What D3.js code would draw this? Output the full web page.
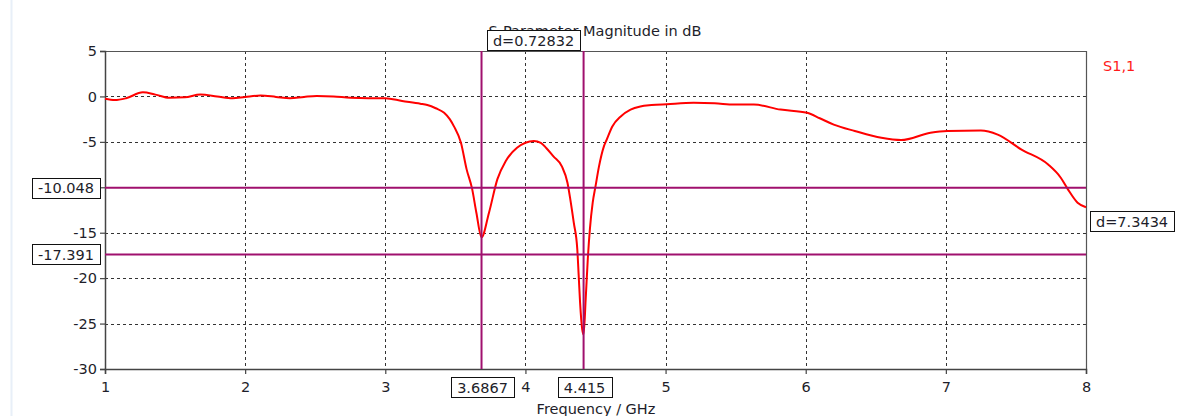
<!DOCTYPE html>
<html><head><meta charset="utf-8">
<script src="https://cdn.jsdelivr.net/npm/d3@7"></script>
<style>html,body{margin:0;padding:0;background:#fff;overflow:hidden}svg{display:block}</style>
</head><body>
<script>
const freq = [1.00,1.07,1.15,1.27,1.36,1.46,1.57,1.68,1.80,1.91,2.00,2.11,2.22,2.32,2.42,2.51,2.63,2.75,2.88,3.00,3.12,3.25,3.30,3.36,3.42,3.46,3.49,3.54,3.58,3.62,3.65,3.6867,3.74,3.80,3.86,3.94,4.06,4.11,4.15,4.20,4.26,4.30,4.32,4.345,4.37,4.38,4.39,4.405,4.415,4.43,4.445,4.46,4.48,4.50,4.525,4.56,4.58,4.62,4.68,4.75,4.82,4.90,5.01,5.20,5.35,5.49,5.63,5.82,6.01,6.10,6.20,6.35,6.54,6.68,6.89,7.01,7.25,7.37,7.54,7.73,7.82,7.87,7.94,8.00];
const s11 = [-0.25,-0.4,-0.2,0.45,0.2,-0.15,-0.1,0.2,0.0,-0.2,-0.05,0.1,-0.05,-0.2,-0.05,0.05,0.0,-0.15,-0.2,-0.2,-0.5,-0.8,-0.95,-1.3,-1.8,-2.5,-3.3,-5.1,-8.0,-10.2,-12.8,-15.5,-12.8,-9.1,-7.1,-5.65,-4.9,-5.1,-5.7,-6.6,-7.7,-9.5,-11.3,-13.9,-16.8,-19.7,-22.7,-25.6,-26.2,-22.3,-17.9,-14.6,-11.7,-9.9,-7.7,-5.5,-4.75,-3.3,-2.2,-1.45,-1.1,-0.95,-0.85,-0.7,-0.75,-0.9,-0.9,-1.45,-1.8,-2.4,-3.1,-3.8,-4.55,-4.8,-4.0,-3.8,-3.75,-4.2,-5.85,-7.5,-8.95,-10.2,-11.7,-12.2];
const xTicks = [1,2,3,4,5,6,7,8];
const yTicks = [5,0,-5,-10,-15,-20,-25,-30];
const markerX = [3.6867, 4.415];
const markerY = [-10.048, -17.391];
const markerXLabels = ["3.6867", "4.415"];
const markerYLabels = ["-10.048", "-17.391"];
const deltaXLabel = "d=0.72832";
const deltaYLabel = "d=7.3434";
const titleText = "S-Parameter Magnitude in dB";
const xTitle = "Frequency / GHz";
const seriesName = "S1,1";

const W = 1177, H = 416;
const FONT = "'DejaVu Sans', Verdana, sans-serif";
const FS = "14.5px";
const TXT = "#1e1e2a";
const svg = d3.select("body").append("svg").attr("width", W).attr("height", H)
  .style("font-family", FONT);

const x = d3.scaleLinear().domain([1, 8]).range([105, 1086]);
const y = d3.scaleLinear().domain([-30, 5]).range([369, 51]);

// faint left edge line
svg.append("line").attr("x1", 11.5).attr("x2", 11.5).attr("y1", 0).attr("y2", H)
  .attr("stroke", "#e8eff8").attr("stroke-width", 2);

// grid
const grid = svg.append("g").attr("stroke", "#333").attr("stroke-width", 1).attr("stroke-dasharray", "3,3");
xTicks.filter(t => t > 1 && t < 8).forEach(t => {
  grid.append("line").attr("x1", Math.round(x(t)) + 0.5).attr("x2", Math.round(x(t)) + 0.5)
    .attr("y1", y(5)).attr("y2", y(-30));
});
yTicks.filter(t => t < 5 && t > -30).forEach(t => {
  grid.append("line").attr("x1", x(1)).attr("x2", x(8))
    .attr("y1", Math.round(y(t)) + 0.5).attr("y2", Math.round(y(t)) + 0.5);
});

// frame top/right
svg.append("path").attr("d", `M${x(1)},${y(5)+0.5}H${x(8)+0.5}V${y(-30)}`)
  .attr("fill", "none").attr("stroke", "#555").attr("stroke-width", 1.2);

// axes (the -10 label is hidden behind the marker box in the original)
const yAxis = d3.axisLeft(y).tickValues(yTicks).tickSize(5).tickPadding(3)
  .tickFormat(d => d === -10 ? "" : String(d));
const gy = svg.append("g").attr("transform", `translate(${x(1)},0)`).call(yAxis);
const xAxis = d3.axisBottom(x).tickValues(xTicks).tickSize(5).tickPadding(8).tickFormat(d => String(d));
const gx = svg.append("g").attr("transform", `translate(0,${y(-30)})`).call(xAxis);
[gx, gy].forEach(g => {
  g.select(".domain").attr("stroke", "#444").attr("stroke-width", 1.5);
  g.selectAll(".tick line").attr("stroke", "#444").attr("stroke-width", 1.2);
  g.selectAll(".tick text").attr("fill", TXT).style("font-size", FS).style("font-family", FONT);
});

// title
svg.append("text").attr("x", 595).attr("y", 36).attr("text-anchor", "middle")
  .style("font-size", FS).attr("fill", TXT).text(titleText);

// x title
svg.append("text").attr("x", 596).attr("y", 414).attr("text-anchor", "middle")
  .style("font-size", FS).attr("fill", TXT).text(xTitle);

// legend
svg.append("text").attr("x", 1103).attr("y", 71).style("font-size", FS).attr("fill", "#ff1a1a").text(seriesName);

// curve
const line = d3.line().x(d => x(d[0])).y(d => y(d[1])).curve(d3.curveMonotoneX);
svg.append("path").datum(freq.map((f, i) => [f, s11[i]]))
  .attr("d", line).attr("fill", "none").attr("stroke", "#ff0000").attr("stroke-width", 2);

// marker lines
const MC = "#a0106e";
markerX.forEach(m => {
  svg.append("line").attr("x1", x(m)).attr("x2", x(m)).attr("y1", y(5)).attr("y2", y(-30))
    .attr("stroke", MC).attr("stroke-width", 2);
});
markerY.forEach(m => {
  svg.append("line").attr("x1", x(1)).attr("x2", x(8)).attr("y1", y(m)).attr("y2", y(m))
    .attr("stroke", MC).attr("stroke-width", 2);
});

// boxes
function box(cx, cy, label, anchor) {
  const g = svg.append("g");
  const rect = g.append("rect").attr("fill", "#fff").attr("stroke", "#111").attr("stroke-width", 1);
  const t = g.append("text").style("font-size", FS).attr("fill", TXT).attr("text-anchor", "middle").text(label);
  const bb = t.node().getBBox();
  const w = bb.width + 12, h = 20;
  let left;
  if (anchor === "end") left = cx - w;
  else if (anchor === "start") left = cx;
  else left = cx - w / 2;
  rect.attr("x", Math.round(left) + 0.5).attr("y", Math.round(cy - h / 2) + 0.5).attr("width", Math.round(w)).attr("height", h);
  t.attr("x", left + w / 2).attr("y", cy + 5.5);
}
markerX.forEach((m, i) => box(x(m) + 1, 387, markerXLabels[i], "middle"));
markerY.forEach((m, i) => box(100, y(m), markerYLabels[i], "end"));
box((x(markerX[0]) + x(markerX[1])) / 2 + 1, 40, deltaXLabel, "middle");
box(1090, (y(markerY[0]) + y(markerY[1])) / 2, deltaYLabel, "start");
</script>
</body></html>
